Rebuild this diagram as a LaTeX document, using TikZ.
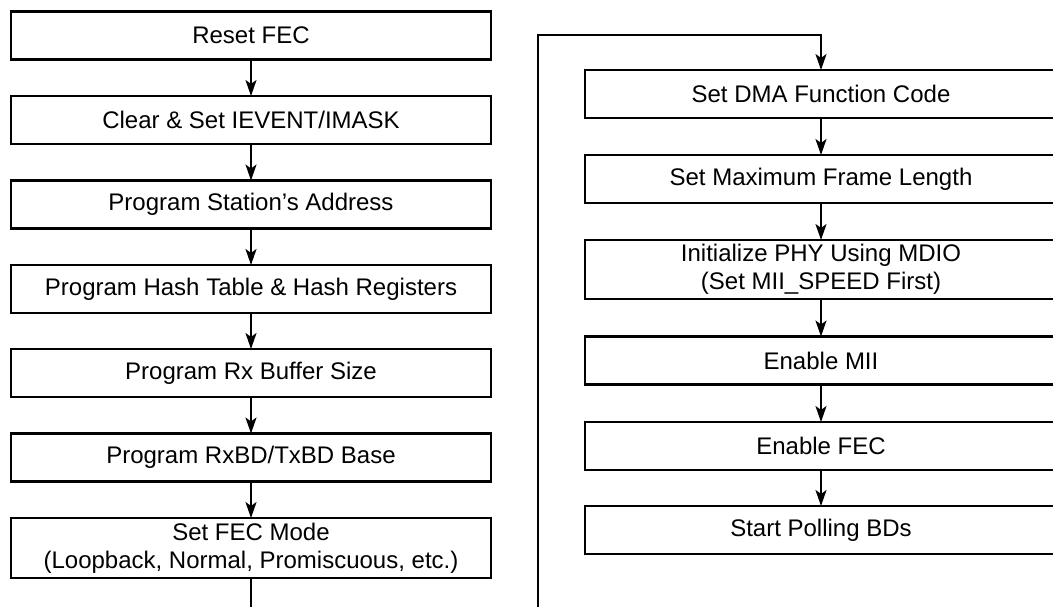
\documentclass[tikz,border=0pt]{standalone}
\usepackage{fontspec}
\setmainfont{Liberation Sans}
\usetikzlibrary{arrows.meta}
\begin{document}
\begin{tikzpicture}[x=1pt,y=-1pt,
  box/.style={draw,line width=2.2pt,minimum height=48pt,inner sep=0pt,outer sep=0pt,align=center,font=\fontsize{24}{28}\selectfont},
  lbox/.style={box,minimum width=480pt},
  rbox/.style={box,minimum width=472pt},
  conn/.style={line width=2.2pt,-{Stealth[length=16pt,width=11pt,inset=4pt]}},
  wire/.style={line width=2.2pt}]
\useasboundingbox (0,0) rectangle (1053,607);
\clip (0,0) rectangle (1053,607);
% left column
\node[lbox] (l1) at (251,35.5) {Reset FEC};
\node[lbox] (l2) at (251,120) {Clear \& Set IEVENT/IMASK};
\node[lbox] (l3) at (251,204.5) {Program Station’s Address};
\node[lbox] (l4) at (251,289) {Program Hash Table \& Hash Registers};
\node[lbox] (l5) at (251,373) {Program Rx Buffer Size};
\node[lbox] (l6) at (251,457.5) {Program RxBD/TxBD Base};
\node[lbox,minimum height=60pt] (l7) at (251,548) {Set FEC Mode\\(Loopback, Normal, Promiscuous, etc.)};
% right column
\node[rbox] (r1) at (821,94) {Set DMA Function Code};
\node[rbox] (r2) at (821,179) {Set Maximum Frame Length};
\node[rbox,minimum height=59pt] (r3) at (821,269.5) {Initialize PHY Using MDIO\\(Set MII\_SPEED First)};
\node[rbox] (r4) at (821,360.5) {Enable MII};
\node[rbox] (r5) at (821,446) {Enable FEC};
\node[rbox] (r6) at (821,530) {Start Polling BDs};
% connectors
\draw[conn] (l1) -- (l2);
\draw[conn] (l2) -- (l3);
\draw[conn] (l3) -- (l4);
\draw[conn] (l4) -- (l5);
\draw[conn] (l5) -- (l6);
\draw[conn] (l6) -- (l7);
\coordinate (lend) at (251,612);
\draw[wire] (l7.south) -- (lend);
\coordinate (rstart) at (538,612);
\coordinate (rcorner) at (538,35);
\draw[conn] (rstart) -- (rcorner) -| (r1.north);
\draw[conn] (r1) -- (r2);
\draw[conn] (r2) -- (r3);
\draw[conn] (r3) -- (r4);
\draw[conn] (r4) -- (r5);
\draw[conn] (r5) -- (r6);
\end{tikzpicture}
\end{document}
